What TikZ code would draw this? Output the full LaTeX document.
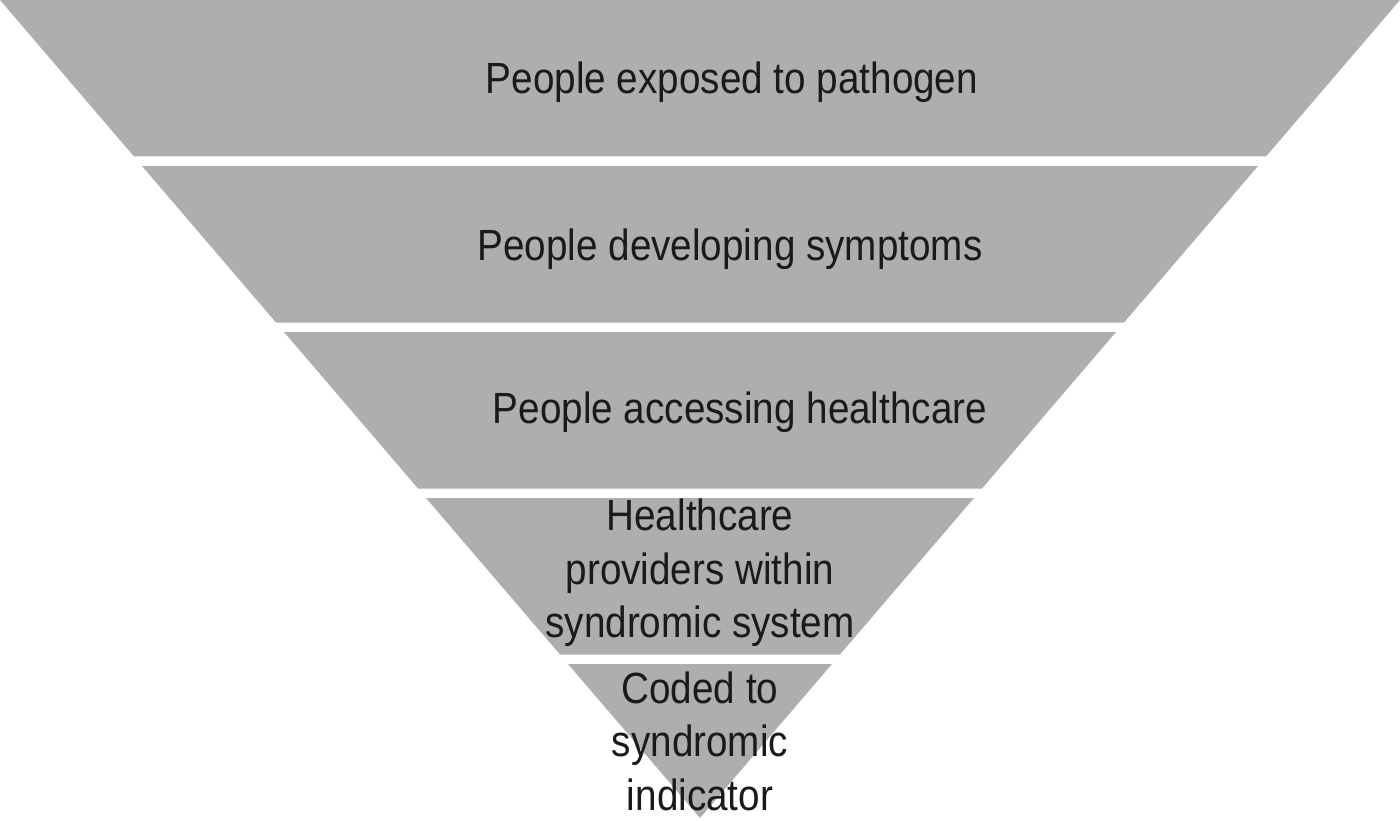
\documentclass[tikz,border=0pt]{standalone}
\usepackage{fontspec}
\setmainfont{Liberation Sans}
\usepackage{tikz}
\usetikzlibrary{positioning, calc}
\definecolor{bandgray}{RGB}{174,174,174}
\definecolor{textblack}{RGB}{26,26,26}

\begin{document}
\begin{tikzpicture}[x=0.02cm, y=-0.02cm,
    band/.style={fill=bandgray},
    bandtext/.style={text=textblack, font=\fontsize{22}{27}\selectfont, align=center,
        inner sep=0pt, yscale=1.13, transform shape}]
    % Frame (keeps the margins)
    \useasboundingbox (0,0) rectangle (1400,821);

    % Bands of the inverted triangle, top to bottom
    \fill[band] (0,0) -- (1400,0) -- (1266,156.5) -- (134,156.5) -- cycle;
    \fill[band] (142,166) -- (1258,166) -- (1124,322.5) -- (276,322.5) -- cycle;
    \fill[band] (284,332) -- (1116,332) -- (982,488.5) -- (418,488.5) -- cycle;
    \fill[band] (426,498) -- (974,498) -- (840,654.5) -- (560,654.5) -- cycle;
    \fill[band] (568,664) -- (832,664) -- (700,818) -- cycle;

    % Band texts
    \node[bandtext, anchor=base] (exposed) at (732,93) {People exposed to pathogen};
    \node[bandtext, anchor=base] (symptoms) at (730,260) {People developing symptoms};
    \node[bandtext, anchor=base] (access) at (740,423) {People accessing healthcare};
    \node[bandtext] (providers) at (700,573) {Healthcare\\providers within\\syndromic system};
    \node[bandtext] (coded) at (700,741) {Coded to\\syndromic\\indicator};

\end{tikzpicture}
\end{document}
